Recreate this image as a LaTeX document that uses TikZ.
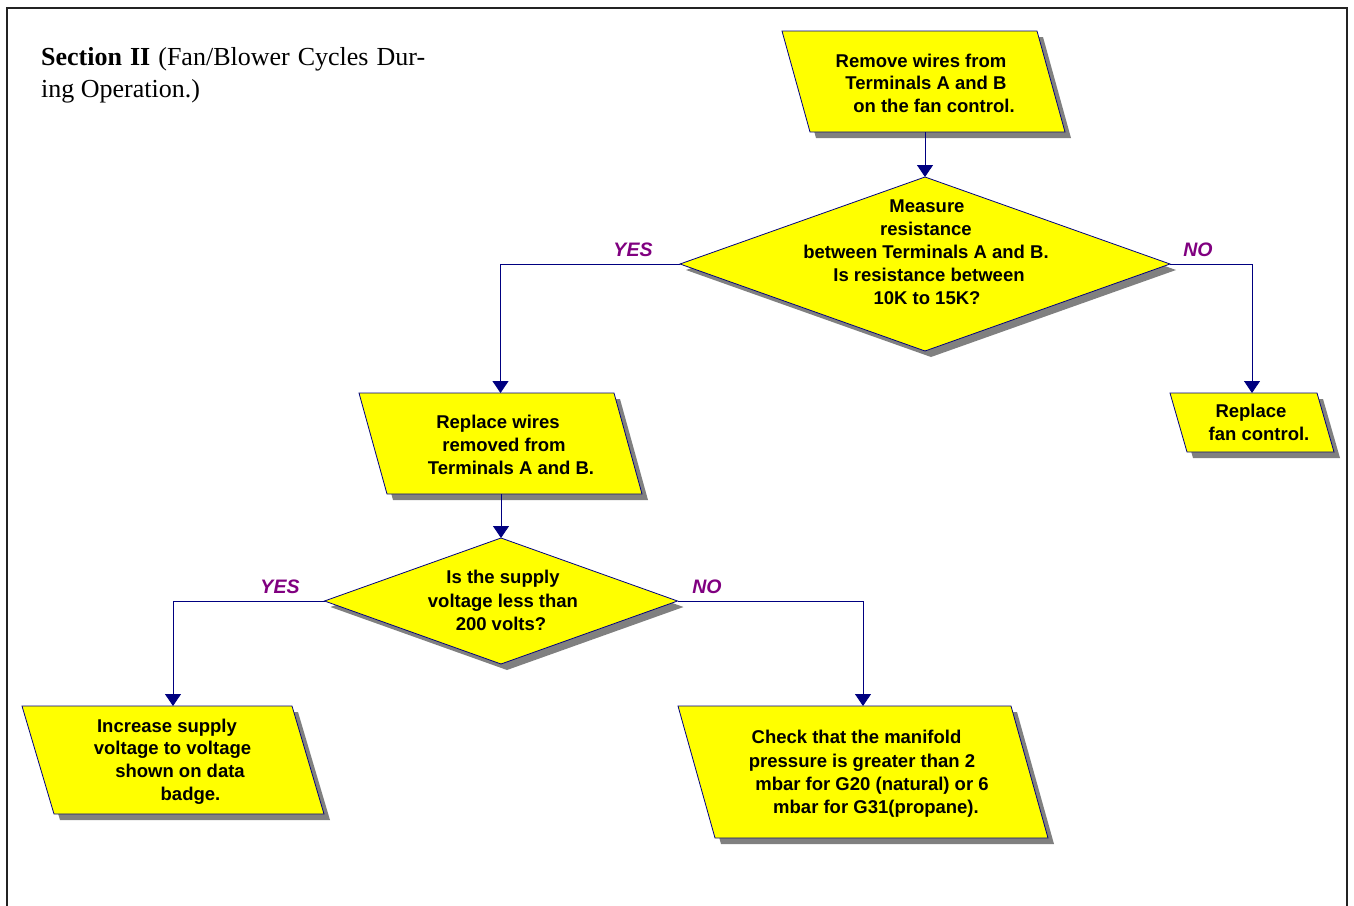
\documentclass[tikz,border=0pt]{standalone}
\usepackage{fontspec}
\setmainfont{Liberation Serif}
\newfontfamily\arialf{Liberation Sans}
\usetikzlibrary{arrows.meta,shapes.geometric,shadows}
\definecolor{yel}{RGB}{255,255,0}
\definecolor{navyc}{RGB}{0,0,128}
\definecolor{shadowc}{RGB}{128,128,128}
\definecolor{framec}{RGB}{35,35,35}
\definecolor{labc}{RGB}{128,0,128}
\newcommand\bxfont{\arialf\bfseries\fontsize{18.5}{22}\selectfont}
\newcommand\lbfont{\arialf\bfseries\itshape\fontsize{19.5}{22}\selectfont}
\newcommand\ttlfont{\fontsize{26}{32}\selectfont}
\tikzset{
  boxline/.style={draw=navyc, line width=0.8pt},
  ltxt/.style={anchor=base, inner sep=0pt, font=\bxfont, text=black},
  lab/.style={anchor=base, inner sep=0pt, font=\lbfont, text=labc},
  conn/.style={draw=navyc, line width=0.9pt, -{Triangle[width=16pt,length=12pt]}},
  dia/.style={diamond, draw=navyc, line width=0.8pt, fill=yel, inner sep=0pt, outer sep=0pt,
    drop shadow={shadow xshift=6pt, shadow yshift=-6pt, fill=shadowc, opacity=1}},
}
% name, left, top, right, bottom, slant
\newcommand\pgm[6]{%
  \fill[shadowc] ({#2+6},{#3+6}) -- ({#4-#6+6},{#3+6}) -- ({#4+6},{#5+6}) -- ({#2+#6+6},{#5+6}) -- cycle;
  \draw[boxline, fill=yel] (#2,#3) -- ({#4-#6},#3) -- (#4,#5) -- ({#2+#6},#5) -- cycle;
  \node[inner sep=0pt, outer sep=0pt, minimum width={#4-#2}, minimum height={#5-#3}] (#1) at ({(#2+#4)/2},{(#3+#5)/2}) {};
}
\begin{document}
\begin{tikzpicture}[x=1pt, y=-1pt]
\useasboundingbox (0,0) rectangle (1354,905);
\draw[framec, line width=2.8pt] (7,906) -- (7,8) -- (1347,8) -- (1347,906);

% title
\node[anchor=base west, inner sep=0pt, font=\ttlfont] (title1) at (41,65)
  {\makebox[384pt][s]{\textbf{Section II} (Fan/Blower Cycles Dur-}};
\node[anchor=base west, inner sep=0pt, font=\ttlfont] (title2) at (41,97) {ing Operation.)};

% shapes
\pgm{b1}{782}{31}{1065}{132}{28}
\node[dia, minimum width=490pt, minimum height=174pt] (d1) at (925,264) {};
\pgm{b3}{359}{393}{642}{494}{28}
\pgm{b4}{1170}{393}{1334}{452}{17}
\node[dia, minimum width=353pt, minimum height=126pt] (d2) at (501,601) {};
\pgm{b6}{22}{706}{324}{814}{32}
\pgm{b7}{678}{706}{1048}{838}{37}

% texts
\node[ltxt] (b1a) at (921,67) {Remove wires from};
\node[ltxt] (b1b) at (926,89) {Terminals A and B};
\node[ltxt] (b1c) at (934,112) {on the fan control.};

\node[ltxt] (d1a) at (927,212) {Measure};
\node[ltxt] (d1b) at (926,235) {resistance};
\node[ltxt] (d1c) at (926,258) {between Terminals A and B.};
\node[ltxt] (d1d) at (929,281) {Is resistance between};
\node[ltxt] (d1e) at (927,304) {10K to 15K?};

\node[ltxt] (b3a) at (498,428) {Replace wires};
\node[ltxt] (b3b) at (504,451) {removed from};
\node[ltxt] (b3c) at (511,474) {Terminals A and B.};

\node[ltxt] (b4a) at (1251,417) {Replace};
\node[ltxt] (b4b) at (1259,440) {fan control.};

\node[ltxt] (d2a) at (503,583) {Is the supply};
\node[ltxt] (d2b) at (503,607) {voltage less than};
\node[ltxt] (d2c) at (501,630) {200 volts?};

\node[ltxt] (b6a) at (167,732) {Increase supply};
\node[ltxt] (b6b) at (172.5,754) {voltage to voltage};
\node[ltxt] (b6c) at (180,777) {shown on data};
\node[ltxt] (b6d) at (190.5,800) {badge.};

\node[ltxt] (b7a) at (856.5,743) {Check that the manifold};
\node[ltxt] (b7b) at (862,767) {pressure is greater than 2};
\node[ltxt] (b7c) at (872,790) {mbar for G20 (natural) or 6};
\node[ltxt] (b7d) at (876,813) {mbar for G31(propane).};

% connectors
\draw[conn] (b1.south -| d1.north) -- (d1.north);
\draw[conn] (d1.west) -| (b3.north);
\draw[conn] (d1.east) -| (b4.north);
\draw[conn] (b3.south -| d2.north) -- (d2.north);
\draw[conn] (d2.west) -| (b6.north);
\draw[conn] (d2.east) -| (b7.north);

% labels
\node[lab] (y1) at (633,256) {YES};
\node[lab] (n1) at (1198,256) {NO};
\node[lab] (y2) at (280,593) {YES};
\node[lab] (n2) at (707,593) {NO};
\end{tikzpicture}
\end{document}
